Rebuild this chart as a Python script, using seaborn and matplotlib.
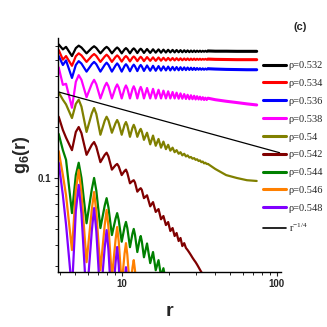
import matplotlib
matplotlib.use('Agg')
import matplotlib.pyplot as plt
import numpy as np
import pandas as pd
import seaborn as sns
from matplotlib.lines import Line2D
from matplotlib.ticker import LogLocator, NullFormatter, FixedLocator, FixedFormatter

# r positions of the oscillation vertices (troughs, peak shoulders, peaks), shared by all curves
r_osc = [3.9, 4.15, 4.35, 4.75,
         5.03, 5.25, 5.47, 5.9,
         6.38, 6.6, 6.82, 7.25,
         7.73, 7.95, 8.17, 8.6,
         9.08, 9.3, 9.52, 9.95,
         10.38, 10.6, 10.82, 11.25,
         11.68, 11.9, 12.12, 12.55,
         12.98, 13.2, 13.42, 13.85,
         14.5, 15.2, 15.85, 16.5, 17.2, 17.85, 18.5, 19.2, 19.85, 20.5,
         21.2, 21.85, 22.5, 23.2, 23.85, 24.5, 25.2, 25.85, 26.5, 27.2,
         27.85, 28.5, 29.2, 29.85, 30.5, 31.2, 31.85, 32.5, 33.2, 33.85,
         34.5, 35.2, 35.85]
# smooth tail at large r
r_tail = [35.85, 40, 47, 55, 64, 74]

g_0532 = [0.615, 0.575, 0.595, 0.525,
          0.585, 0.605, 0.590, 0.545,
          0.586, 0.600, 0.586, 0.545,
          0.583, 0.595, 0.583, 0.545,
          0.579, 0.590, 0.579, 0.545,
          0.575, 0.585, 0.575, 0.545,
          0.574, 0.583, 0.574, 0.547,
          0.572, 0.580, 0.572, 0.548,
          0.578, 0.548, 0.576, 0.550, 0.575, 0.550, 0.573, 0.551, 0.572, 0.552,
          0.571, 0.552, 0.570, 0.553, 0.569, 0.553, 0.568, 0.554, 0.567, 0.554,
          0.566, 0.555, 0.566, 0.555, 0.565, 0.556, 0.565, 0.556, 0.564, 0.557,
          0.564, 0.557, 0.563]
g_0532_tail = [0.563, 0.561, 0.561, 0.560, 0.560, 0.560]

g_0534 = [0.570, 0.500, 0.525, 0.460,
          0.524, 0.545, 0.530, 0.485,
          0.526, 0.540, 0.526, 0.485,
          0.522, 0.535, 0.522, 0.485,
          0.519, 0.530, 0.519, 0.487,
          0.516, 0.525, 0.516, 0.488,
          0.514, 0.522, 0.514, 0.490,
          0.512, 0.520, 0.512, 0.490,
          0.518, 0.492, 0.516, 0.492, 0.515, 0.493, 0.513, 0.494, 0.512, 0.495,
          0.511, 0.495, 0.510, 0.496, 0.509, 0.496, 0.508, 0.497, 0.508, 0.497,
          0.507, 0.498, 0.507, 0.498, 0.506, 0.499, 0.506, 0.499, 0.505, 0.500,
          0.505, 0.500, 0.504]
g_0534_tail = [0.504, 0.502, 0.501, 0.500, 0.500, 0.500]

g_0536 = [0.525, 0.465, 0.495, 0.390,
          0.465, 0.490, 0.474, 0.425,
          0.470, 0.485, 0.470, 0.425,
          0.466, 0.480, 0.466, 0.425,
          0.462, 0.475, 0.462, 0.425,
          0.459, 0.470, 0.459, 0.427,
          0.457, 0.467, 0.457, 0.428,
          0.456, 0.465, 0.456, 0.429,
          0.462, 0.430, 0.460, 0.430, 0.458, 0.431, 0.456, 0.432, 0.455, 0.432,
          0.453, 0.433, 0.452, 0.433, 0.451, 0.434, 0.450, 0.434, 0.449, 0.435,
          0.448, 0.435, 0.447, 0.435, 0.446, 0.436, 0.445, 0.436, 0.444, 0.436,
          0.443, 0.437, 0.442]
g_0536_tail = [0.442, 0.440, 0.438, 0.437, 0.436, 0.436]

g_0538 = [0.450, 0.355, 0.360, 0.260,
          0.370, 0.405, 0.380, 0.300,
          0.360, 0.380, 0.358, 0.295,
          0.348, 0.365, 0.348, 0.295,
          0.342, 0.357, 0.342, 0.295,
          0.338, 0.352, 0.338, 0.295,
          0.335, 0.348, 0.335, 0.295,
          0.333, 0.345, 0.333, 0.295,
          0.340, 0.295, 0.336, 0.295, 0.332, 0.295, 0.328, 0.295, 0.325, 0.295,
          0.322, 0.295, 0.319, 0.294, 0.316, 0.294, 0.313, 0.293, 0.310, 0.292,
          0.308, 0.292, 0.306, 0.291, 0.304, 0.291, 0.302, 0.290, 0.300, 0.289,
          0.298, 0.289, 0.296]
g_0538_tail = [0.296, 0.290, 0.284, 0.279, 0.274, 0.270]

g_0540 = [0.320, 0.290, 0.272, 0.226,
          0.274, 0.290, 0.264, 0.187,
          0.241, 0.259, 0.239, 0.180,
          0.218, 0.230, 0.219, 0.185,
          0.211, 0.220, 0.210, 0.180,
          0.206, 0.214, 0.204, 0.175,
          0.198, 0.206, 0.198, 0.175,
          0.190, 0.195, 0.188, 0.168,
          0.185, 0.158, 0.178, 0.155, 0.170, 0.151, 0.164, 0.148, 0.157, 0.145,
          0.151, 0.142, 0.146, 0.139, 0.142, 0.136, 0.139, 0.134, 0.136, 0.132,
          0.133, 0.130, 0.131, 0.128, 0.129, 0.126, 0.127, 0.124, 0.125, 0.122,
          0.123, 0.121, 0.121]
g_0540_tail = [0.121, 0.113, 0.104, 0.100, 0.097, 0.096]

g_0542 = [0.230, 0.192, 0.173, 0.146,
          0.187, 0.200, 0.184, 0.137,
          0.157, 0.163, 0.153, 0.124,
          0.137, 0.141, 0.134, 0.112,
          0.119, 0.121, 0.117, 0.104,
          0.110, 0.112, 0.107, 0.093,
          0.096, 0.097, 0.094, 0.083,
          0.086, 0.087, 0.085, 0.076,
          0.079, 0.068, 0.072, 0.063, 0.0655, 0.057, 0.0596, 0.0527, 0.0549, 0.0486,
          0.0506, 0.0454, 0.0473, 0.0424, 0.0442, 0.0396, 0.0412, 0.0386, 0.0375, 0.0362,
          0.0350, 0.0338, 0.0327, 0.0318, 0.0308, 0.0297, 0.0287, 0.0278, 0.0270]

g_0544 = [0.182, 0.146, 0.128, 0.062,
          0.104, 0.123, 0.100, 0.054,
          0.0857, 0.100, 0.0843, 0.0506,
          0.0687, 0.076, 0.067, 0.046,
          0.0575, 0.062, 0.0563, 0.042,
          0.0514, 0.055, 0.0505, 0.039,
          0.047, 0.050, 0.0462, 0.0365,
          0.043, 0.0454, 0.0422, 0.034,
          0.041, 0.0314, 0.0365, 0.0285, 0.0327, 0.0263, 0.0293, 0.0242]

g_0546 = [0.144, 0.104, 0.079, 0.0375,
          0.0849, 0.1115, 0.0815, 0.0318,
          0.0651, 0.0826, 0.0633, 0.0285,
          0.0527, 0.0647, 0.0513, 0.0256,
          0.0431, 0.0513, 0.0421, 0.0233,
          0.0357, 0.0412, 0.0351, 0.0217,
          0.0295, 0.0327, 0.0285, 0.019]

g_0548 = [0.123, 0.079, 0.053, 0.0217,
          0.0636, 0.091, 0.0615, 0.019,
          0.0486, 0.0664, 0.0486, 0.019,
          0.0388, 0.0492, 0.0375, 0.0166,
          0.0316, 0.0391, 0.0305, 0.0145,
          0.0248, 0.0297, 0.024, 0.0126]

# power law guide r^-1/4
r_fit = [3.9, 104]
g_fit = [0.322, 0.141]

labels = ['ρ=0.532', 'ρ=0.534', 'ρ=0.536', 'ρ=0.538', 'ρ=0.54',
          'ρ=0.542', 'ρ=0.544', 'ρ=0.546', 'ρ=0.548']
colors = ['#000000', '#FF0000', '#0000FF', '#FF00FF', '#808000',
          '#800000', '#008000', '#FF8000', '#8000FF']
palette = dict(zip(labels, colors))
series = [g_0532, g_0534, g_0536, g_0538, g_0540, g_0542, g_0544, g_0546, g_0548]
tails = {'ρ=0.532': g_0532_tail, 'ρ=0.534': g_0534_tail, 'ρ=0.536': g_0536_tail,
         'ρ=0.538': g_0538_tail, 'ρ=0.54': g_0540_tail}

rows = []
for lab, vals in zip(labels, series):
    for r, g in zip(r_osc, vals):
        rows.append({'r': r, 'g6': g, 'rho': lab})
df = pd.DataFrame(rows)

tail_rows = []
for lab, vals in tails.items():
    for r, g in zip(r_tail, vals):
        tail_rows.append({'r': r, 'g6': g, 'rho': lab})
df_tail = pd.DataFrame(tail_rows)

sns.set_style('ticks')
plt.rcParams['font.family'] = ['Liberation Sans', 'DejaVu Sans']
plt.rcParams['mathtext.fontset'] = 'custom'
plt.rcParams['mathtext.rm'] = 'Liberation Serif'
plt.rcParams['mathtext.it'] = 'Liberation Serif:italic'
plt.rcParams['mathtext.bf'] = 'Liberation Sans:bold'

fig = plt.figure(figsize=(3.27, 3.27), dpi=100)
ax = fig.add_axes([0.1774, 0.168, 0.6807, 0.716])

sns.lineplot(data=df, x='r', y='g6', hue='rho', palette=palette,
             hue_order=labels, estimator=None, sort=False, linewidth=1.6,
             legend=False, ax=ax)
# the fine oscillations at large r merge into a thicker band
sns.lineplot(data=df_tail[df_tail['rho'].isin(labels[:4])], x='r', y='g6', hue='rho',
             palette=palette, estimator=None, sort=False, linewidth=2.2,
             legend=False, ax=ax)
sns.lineplot(data=df_tail[df_tail['rho'] == labels[4]], x='r', y='g6', hue='rho',
             palette=palette, estimator=None, sort=False, linewidth=1.6,
             legend=False, ax=ax)
sns.lineplot(x=r_fit, y=g_fit, color='black', linewidth=0.9, ax=ax)

ax.set_xscale('log')
ax.set_yscale('log')
ax.set_xlim(3.86, 105.6)
ax.set_ylim(0.0278, 0.672)

ax.xaxis.set_major_locator(FixedLocator([10, 100]))
ax.xaxis.set_major_formatter(FixedFormatter(['10', '100']))
ax.xaxis.set_minor_locator(LogLocator(base=10, subs=np.arange(2, 10)))
ax.xaxis.set_minor_formatter(NullFormatter())
ax.yaxis.set_major_locator(FixedLocator([0.1]))
ax.yaxis.set_major_formatter(FixedFormatter(['0.1']))
ax.yaxis.set_minor_locator(LogLocator(base=10, subs=np.arange(2, 10)))
ax.yaxis.set_minor_formatter(NullFormatter())

ax.tick_params(which='major', direction='out', length=3, width=0.8, pad=2, labelsize=7)
ax.tick_params(which='minor', direction='out', length=2, width=0.7)
for lbl in ax.get_xticklabels() + ax.get_yticklabels():
    lbl.set_fontweight('bold')

sns.despine(ax=ax)
for side in ['left', 'bottom']:
    ax.spines[side].set_linewidth(1.0)
    ax.spines[side].set_color('black')

ax.set_xlabel('r', fontsize=14, fontweight='bold', labelpad=10)
ax.set_ylabel(r'$\mathbf{g_6(r)}$', fontsize=13, labelpad=4)

fig.text(300 / 327, 1 - 27 / 327, '(c)', fontsize=8, fontweight='bold',
         ha='center', va='center')

handles = [Line2D([], [], color=c, linewidth=2.2) for c in colors]
handles.append(Line2D([], [], color='black', linewidth=1.2))
leg_labels = labels + [r'r$^{-1/4}$']
fig.legend(handles, leg_labels, loc='upper left',
           bbox_to_anchor=(263 / 327, 1 - 61 / 327), frameon=False,
           prop={'family': 'Liberation Serif', 'size': 7.5},
           handlelength=2.2, handletextpad=0.25, labelspacing=0.82,
           borderpad=0, borderaxespad=0)

fig.savefig('out.png', dpi=100)
